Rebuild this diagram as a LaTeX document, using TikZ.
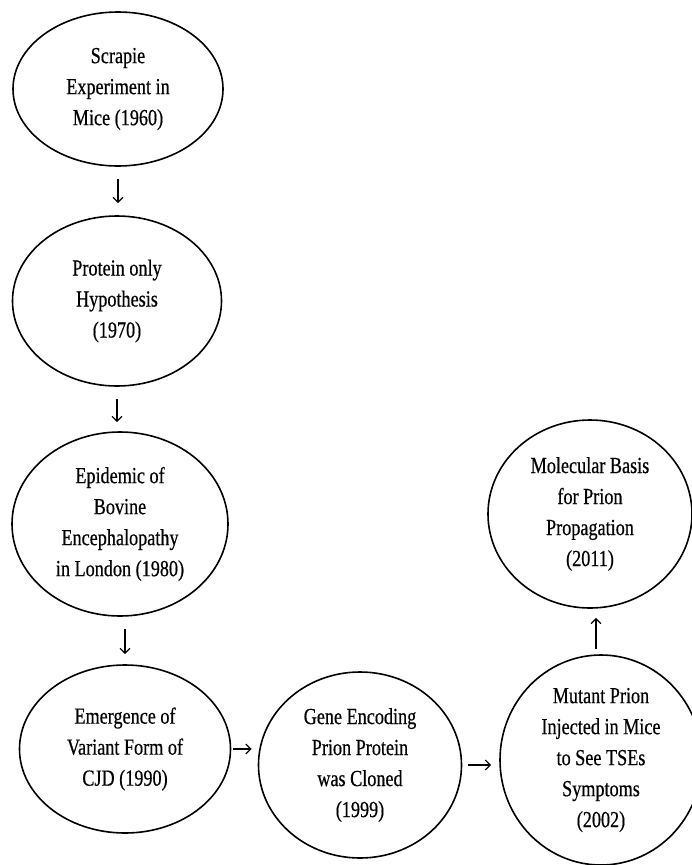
\documentclass[tikz,border=0pt]{standalone}
\usepackage{fontspec}
\setmainfont{Liberation Serif}[FakeStretch=0.79,FakeBold=0.5]
\usetikzlibrary{shapes.geometric,arrows.meta}
\begin{document}
\begin{tikzpicture}[x=1pt,y=-1pt,
  ev/.style={draw,line width=1.6pt,ellipse,inner sep=0pt,align=center,
    font=\fontsize{23}{31}\selectfont},
  arr/.style={line width=1.3pt,-{Straight Barb[length=5pt,width=10pt]}}]
\useasboundingbox (0,0) rectangle (691,865);
\node[ev,minimum width=210pt,minimum height=154pt] (e1) at (118,89) {Scrapie\\Experiment in\\Mice (1960)};
\node[ev,minimum width=209pt,minimum height=170pt] (e2) at (117,301) {Protein only\\Hypothesis\\(1970)};
\node[ev,minimum width=216pt,minimum height=184pt] (e3) at (120,524) {Epidemic of\\Bovine\\Encephalopathy\\in London (1980)};
\node[ev,minimum width=211pt,minimum height=168pt] (e4) at (125,749) {Emergence of\\Variant Form of\\CJD (1990)};
\node[ev,minimum width=203pt,minimum height=186pt] (e5) at (360,765) {Gene Encoding\\Prion Protein\\was Cloned\\(1999)};
\node[ev,minimum width=202pt,minimum height=210pt] (e6) at (601,760) {Mutant Prion\\Injected in Mice\\to See TSEs\\Symptoms\\(2002)};
\node[ev,minimum width=204pt,minimum height=188pt] (e7) at (590,514) {Molecular Basis\\for Prion\\Propagation\\(2011)};
\coordinate (a6) at (596,649);
\draw[arr,shorten <=12pt,shorten >=12pt] (e1.south) -- (e1.south |- e2.north);
\draw[arr,shorten <=12pt,shorten >=9pt] (e2.south) -- (e2.south |- e3.north);
\draw[arr,shorten <=12pt,shorten >=10pt] (e4.north |- e3.south) -- (e4.north);
\draw[arr,shorten <=2pt,shorten >=6pt] (e4.east) -- (e4.east -| e5.west);
\draw[arr,shorten <=6pt,shorten >=8pt] (e5.east) -- (e5.east -| e6.west);
\draw[arr,shorten >=9pt] (a6) -- (a6 |- e7.south);
\end{tikzpicture}
\end{document}
